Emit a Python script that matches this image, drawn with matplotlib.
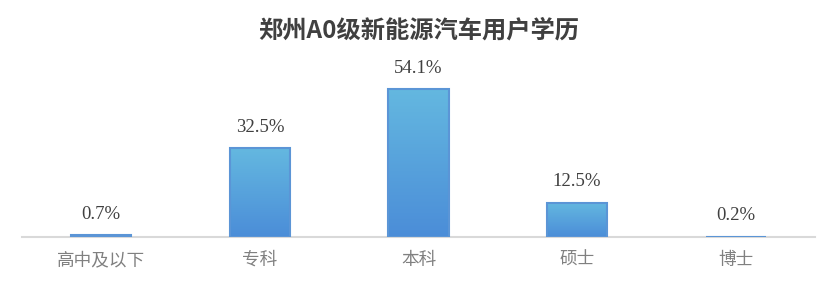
import numpy as np
import matplotlib
matplotlib.use("Agg")
import matplotlib.pyplot as plt
from matplotlib.colors import LinearSegmentedColormap

categories = ["高中及以下", "专科", "本科", "硕士", "博士"]
shares = [0.7, 32.5, 54.1, 12.5, 0.2]
title = "郑州A0级新能源汽车用户学历"

plt.rcParams["font.family"] = ["Noto Sans CJK SC", "DejaVu Sans"]

fig = plt.figure(figsize=(8.37, 2.86), dpi=100)
ax = fig.add_axes([0.0263, 0.171, 0.9474, 0.619])

x = np.arange(len(categories))
bars = ax.bar(x, shares, width=0.38, facecolor="none",
              edgecolor="#5b95d6", linewidth=1.5, zorder=3)

# vertical gradient fill, light on top, darker at the base
cmap = LinearSegmentedColormap.from_list("bar", ["#4b8dd8", "#64b8e0"])
grad = np.linspace(0, 1, 256).reshape(-1, 1)
for b in bars:
    x0, w, h = b.get_x(), b.get_width(), b.get_height()
    im = ax.imshow(grad, extent=[x0, x0 + w, 0, h], origin="lower",
                   aspect="auto", cmap=cmap, zorder=2)
    im.set_clip_path(b)

for xi, v in zip(x, shares):
    ax.annotate(f"{v}%", (xi, v), xytext=(0, 9), textcoords="offset points",
                ha="center", va="bottom", fontsize=13.5,
                family="Liberation Serif", color="#404040")

ax.set_xlim(-0.5, len(categories) - 0.5)
ax.set_ylim(0, 64.7)
ax.set_xticks(x)
ax.set_xticklabels(categories, fontsize=12.7, color="#808080")
ax.tick_params(axis="x", length=0, pad=10)
ax.set_yticks([])
for s in ["top", "right", "left"]:
    ax.spines[s].set_visible(False)
ax.spines["bottom"].set_color("#d9d9d9")
ax.spines["bottom"].set_linewidth(1.5)
ax.spines["bottom"].set_zorder(1)

fig.text(0.5, 0.893, title, ha="center", va="center", fontsize=17.5,
         fontweight="bold", color="#404040")

fig.savefig("out.png", dpi=100)
